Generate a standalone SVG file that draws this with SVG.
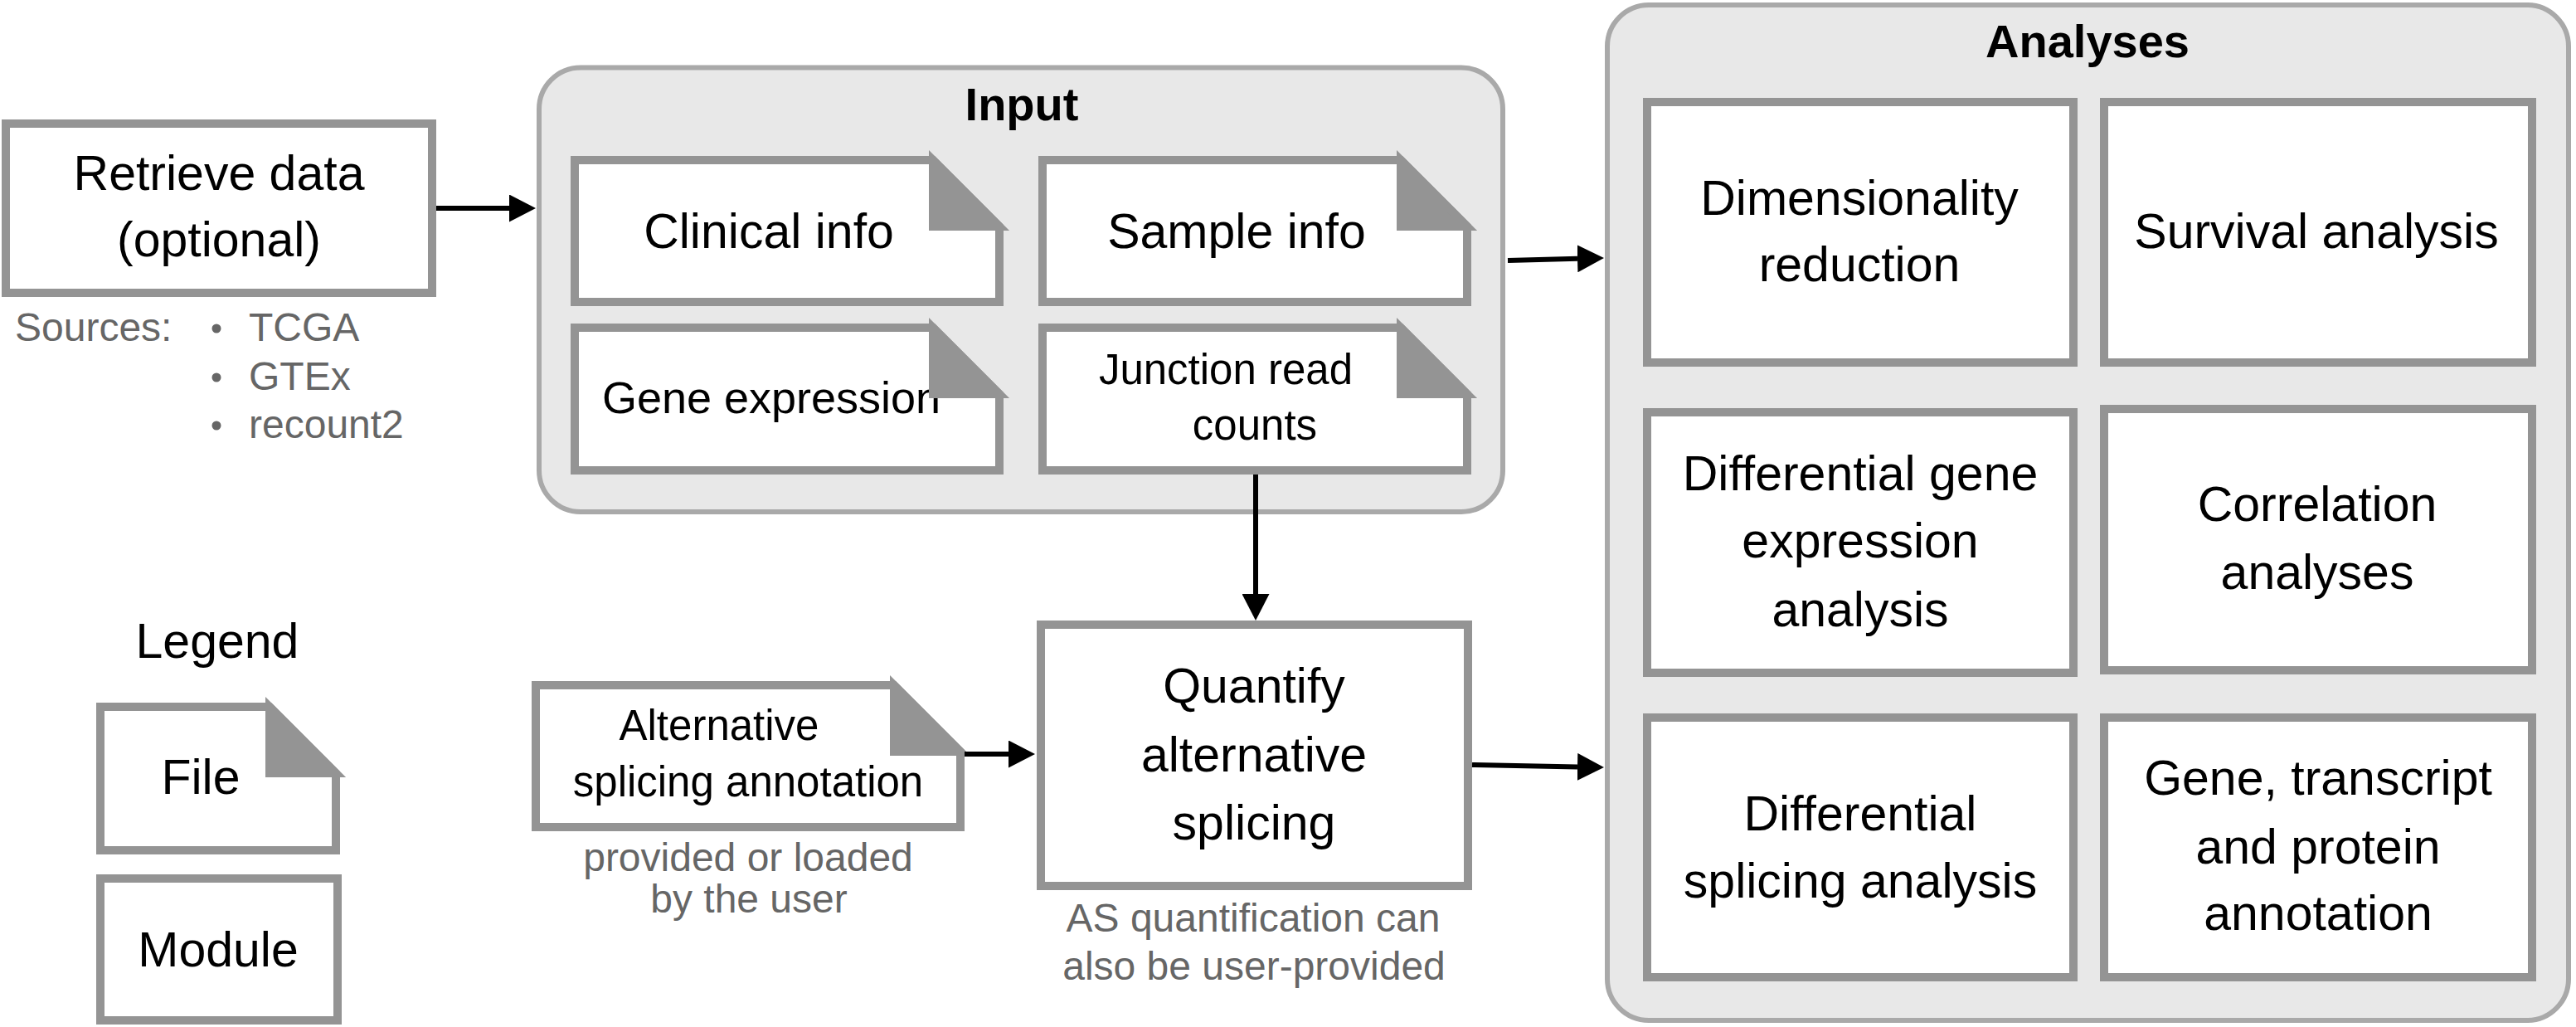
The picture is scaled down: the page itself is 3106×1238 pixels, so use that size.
<svg xmlns="http://www.w3.org/2000/svg" width="3106" height="1238" viewBox="0 0 3106 1238">
<style>
.box{fill:#fff;stroke:#949494;stroke-width:10}
.fold{fill:#949494;stroke:#949494;stroke-width:10;stroke-linejoin:miter}
.cont{fill:#e8e8e8;stroke:#a9a9a9;stroke-width:6}
.t{font-family:"Liberation Sans",Arial,sans-serif;font-size:59px;fill:#000;text-anchor:middle}
.tt{font-family:"Liberation Sans",Arial,sans-serif;font-size:56px;font-weight:bold;fill:#000;text-anchor:middle}
.g{font-family:"Liberation Sans",Arial,sans-serif;font-size:48px;fill:#666;text-anchor:middle}
.conn{stroke:#000;stroke-width:6;fill:none}
</style>
<defs>
<marker id="ah" markerUnits="userSpaceOnUse" markerWidth="32" markerHeight="33" refX="0" refY="16.5" orient="auto" viewBox="0 0 32 33">
<path d="M0,0 L32,16.5 L0,33 Z" fill="#000"/>
</marker>
</defs>
<rect width="3106" height="1238" fill="#fff"/>

<g id="input-container">
<rect class="cont" x="650" y="81.5" width="1162" height="535.5" rx="50"/>
<text class="tt" x="1232" y="145">Input</text>
</g>
<g id="analyses-container">
<rect class="cont" x="1938" y="6" width="1159" height="1224" rx="50"/>
<text class="tt" x="2517" y="69">Analyses</text>
</g>

<g id="retrieve">
<rect class="box" x="7" y="149" width="514" height="204"/>
<text class="t" x="264" y="229">Retrieve data</text>
<text class="t" x="264" y="309">(optional)</text>
</g>
<g id="sources">
<text class="g" x="18" y="411" style="text-anchor:start">Sources:</text>
<circle cx="261" cy="396" r="5.5" fill="#666"/>
<circle cx="261" cy="455" r="5.5" fill="#666"/>
<circle cx="261" cy="513" r="5.5" fill="#666"/>
<text class="g" x="300" y="411" style="text-anchor:start">TCGA</text>
<text class="g" x="300" y="470" style="text-anchor:start">GTEx</text>
<text class="g" x="300" y="528" style="text-anchor:start">recount2</text>
</g>

<g id="clinical-info">
<path class="box" d="M693,193 H1125 L1205,273 V364 H693 Z"/>
<text class="t" x="927" y="299">Clinical info</text>
<path class="fold" d="M1125,193 L1205,273 H1125 Z"/>
</g>
<g id="sample-info">
<path class="box" d="M1257,193 H1689 L1769,273 V364 H1257 Z"/>
<text class="t" x="1491" y="299">Sample info</text>
<path class="fold" d="M1689,193 L1769,273 H1689 Z"/>
</g>
<g id="gene-expression">
<path class="box" d="M693,395 H1125 L1205,475 V567 H693 Z"/>
<text class="t" x="930" y="498" style="font-size:54px">Gene expression</text>
<path class="fold" d="M1125,395 L1205,475 H1125 Z"/>
</g>
<g id="junction-read-counts">
<path class="box" d="M1257,395 H1689 L1769,475 V567 H1257 Z"/>
<text class="t" x="1478" y="463" style="font-size:51px">Junction read</text>
<text class="t" x="1513" y="530" style="font-size:51px">counts</text>
<path class="fold" d="M1689,395 L1769,475 H1689 Z"/>
</g>

<g id="dimensionality-reduction">
<rect class="box" x="1986" y="123" width="514" height="314"/>
<text class="t" x="2242" y="259">Dimensionality</text>
<text class="t" x="2242" y="339">reduction</text>
</g>
<g id="survival-analysis">
<rect class="box" x="2537" y="123" width="516" height="314"/>
<text class="t" x="2793" y="299">Survival analysis</text>
</g>
<g id="differential-gene-expression">
<rect class="box" x="1986" y="497" width="514" height="314"/>
<text class="t" x="2243" y="591">Differential gene</text>
<text class="t" x="2243" y="672">expression</text>
<text class="t" x="2243" y="755">analysis</text>
</g>
<g id="correlation-analyses">
<rect class="box" x="2537" y="493" width="516" height="315"/>
<text class="t" x="2794" y="628">Correlation</text>
<text class="t" x="2794" y="710">analyses</text>
</g>
<g id="differential-splicing">
<rect class="box" x="1986" y="865" width="514" height="313"/>
<text class="t" x="2243" y="1001">Differential</text>
<text class="t" x="2243" y="1082">splicing analysis</text>
</g>
<g id="annotation">
<rect class="box" x="2537" y="865" width="516" height="313"/>
<text class="t" x="2795" y="958">Gene, transcript</text>
<text class="t" x="2795" y="1041">and protein</text>
<text class="t" x="2795" y="1121">annotation</text>
</g>

<g id="quantify">
<rect class="box" x="1255" y="753" width="515" height="315"/>
<text class="t" x="1512" y="847">Quantify</text>
<text class="t" x="1512" y="930">alternative</text>
<text class="t" x="1512" y="1012">splicing</text>
</g>
<g id="quantify-note">
<text class="g" x="1511" y="1123">AS quantification can</text>
<text class="g" x="1512" y="1181">also be user-provided</text>
</g>

<g id="alt-splicing-annotation">
<path class="box" d="M646,826 H1078 L1158,906 V997 H646 Z"/>
<text class="t" x="867" y="892" style="font-size:51px">Alternative</text>
<text class="t" x="902" y="960" style="font-size:51px">splicing annotation</text>
<path class="fold" d="M1078,826 L1158,906 H1078 Z"/>
</g>
<g id="alt-note">
<text class="g" x="902" y="1050">provided or loaded</text>
<text class="g" x="903" y="1100">by the user</text>
</g>

<g id="legend">
<text class="t" x="262" y="793">Legend</text>
</g>
<g id="legend-file">
<path class="box" d="M121,852 H325 L405,932 V1025 H121 Z"/>
<text class="t" x="242" y="957">File</text>
<path class="fold" d="M325,852 L405,932 H325 Z"/>
</g>
<g id="legend-module">
<rect class="box" x="121" y="1059" width="286" height="171"/>
<text class="t" x="263" y="1165">Module</text>
</g>

<g id="connectors">
<line class="conn" x1="526" y1="251" x2="614" y2="251" marker-end="url(#ah)"/>
<line class="conn" x1="1818" y1="314" x2="1902" y2="311.8" marker-end="url(#ah)"/>
<line class="conn" x1="1514" y1="572" x2="1514" y2="716" marker-end="url(#ah)"/>
<line class="conn" x1="1163" y1="909" x2="1216" y2="909" marker-end="url(#ah)"/>
<line class="conn" x1="1775" y1="922" x2="1902" y2="924.4" marker-end="url(#ah)"/>
</g>
</svg>
